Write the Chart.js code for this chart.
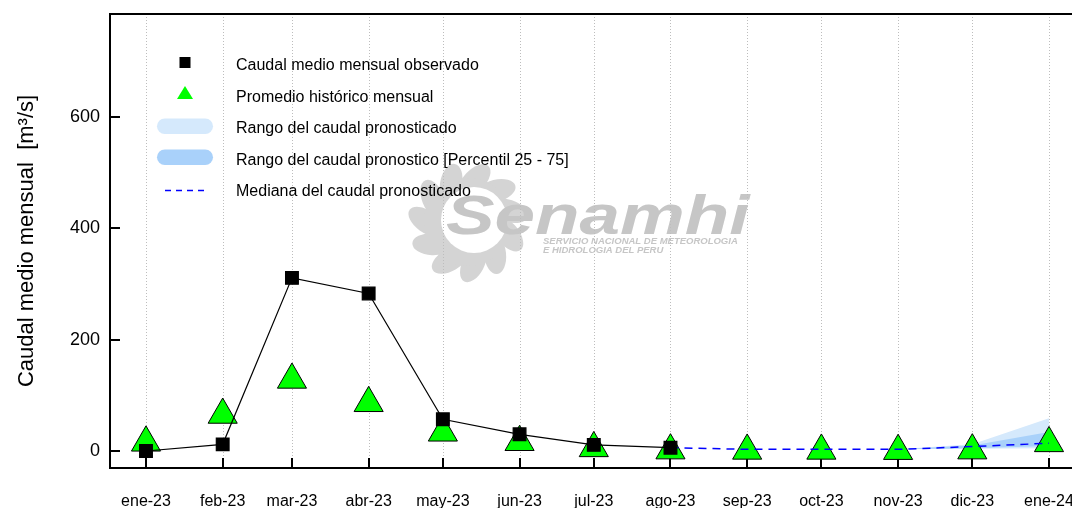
<!DOCTYPE html>
<html>
<head>
<meta charset="utf-8">
<script src="https://cdn.jsdelivr.net/npm/chart.js@4.4.0/dist/chart.umd.min.js"></script>
<style>
html, body { margin: 0; padding: 0; background: #fff; }
#wrap { width: 1072px; height: 508px; }
</style>
</head>
<body>
<div id="wrap"><canvas id="caudalChart" width="1072" height="508"></canvas></div>
<script>
// meses del eje x
const categories = ['ene-23', 'feb-23', 'mar-23', 'abr-23', 'may-23', 'jun-23', 'jul-23',
                    'ago-23', 'sep-23', 'oct-23', 'nov-23', 'dic-23', 'ene-24'];
const observado = [0, 12, 311, 283, 57, 30, 11, 6, null, null, null, null, null];
const promedioHistorico = [15, 65, 128, 86, 33, 16, 5, 1, 0.5, 0.5, 0, 1, 14];
const medianaPronostico = [null, null, null, null, null, null, null, 6, 3, 3, 3, 8, 14];
const rangoMin = [null, null, null, null, null, null, null, 6, 3, 3, 3, 4, 5];
const rangoMax = [null, null, null, null, null, null, null, 6, 3, 3, 3, 12, 59];
const percentil25 = [null, null, null, null, null, null, null, 6, 3, 3, 3, 5, 9];
const percentil75 = [null, null, null, null, null, null, null, 6, 3, 3, 3, 10, 34];
const yTicks = [0, 200, 400, 600];

const legendItems = [
    'Caudal medio mensual observado',
    'Promedio histórico mensual',
    'Rango del caudal pronosticado',
    'Rango del caudal pronostico [Percentil 25 - 75]',
    'Mediana del caudal pronosticado'
];

const FONT = "'Liberation Sans', Arial, sans-serif";

// posicion de cada mes en dias desde ene-23
const dayMs = 86400000;
const xDays = categories.map((c, i) => (Date.UTC(2023, i, 1) - Date.UTC(2023, 0, 1)) / dayMs);
const toPoints = arr => arr.map((v, i) => ({ x: xDays[i], y: v }));

// logo de fondo
const watermark = {
    id: 'watermark',
    beforeDraw(chart) {
        const ctx = chart.ctx;
        ctx.save();
        ctx.fillStyle = '#fff';
        ctx.fillRect(0, 0, chart.width, chart.height);
        const cx = 468, cy = 222;
        ctx.fillStyle = '#d4d4d4';
        for (let k = 0; k < 11; k++) {
            const a = k * Math.PI * 2 / 11 + 0.3;
            ctx.save();
            ctx.translate(cx + Math.cos(a) * 42, cy + Math.sin(a) * 42);
            ctx.rotate(a + 0.6);
            ctx.beginPath();
            ctx.ellipse(0, 0, 20, 11, 0, 0, Math.PI * 2);
            ctx.fill();
            ctx.restore();
        }
        ctx.beginPath();
        ctx.arc(cx, cy, 44, 0, Math.PI * 2);
        ctx.fill();
        ctx.fillStyle = '#fff';
        ctx.beginPath();
        ctx.arc(cx + 6, cy - 2, 33, 0, Math.PI * 2);
        ctx.fill();

        ctx.fillStyle = '#c6c6c6';
        ctx.save();
        ctx.translate(446, 234);
        ctx.scale(1.3, 1);
        ctx.font = 'italic bold 56px ' + FONT;
        ctx.textBaseline = 'alphabetic';
        ctx.fillText('Senamhi', 0, 0);
        ctx.restore();
        ctx.font = 'italic bold 9.5px ' + FONT;
        ctx.fillText('SERVICIO NACIONAL DE METEOROLOGIA', 543, 244, 214);
        ctx.fillText('E HIDROLOGIA DEL PERU', 543, 253, 130);
        ctx.restore();
    }
};

// rejilla punteada, marco, marcas hacia adentro y etiquetas del eje x
const frame = {
    id: 'frame',
    beforeDatasetsDraw(chart) {
        const ctx = chart.ctx;
        const area = chart.chartArea;
        const xs = chart.scales.x, ys = chart.scales.y;
        ctx.save();
        ctx.strokeStyle = '#bdbdbd';
        ctx.lineWidth = 1;
        ctx.setLineDash([1, 2]);
        xDays.forEach(d => {
            const px = Math.round(xs.getPixelForValue(d)) + 0.5;
            ctx.beginPath();
            ctx.moveTo(px, area.top);
            ctx.lineTo(px, area.bottom);
            ctx.stroke();
        });
        ctx.setLineDash([]);
        ctx.strokeStyle = '#000';
        ctx.lineWidth = 2;
        ctx.beginPath();
        ctx.moveTo(area.right + 2, area.top);
        ctx.lineTo(area.left, area.top);
        ctx.lineTo(area.left, area.bottom);
        ctx.lineTo(area.right + 2, area.bottom);
        ctx.stroke();
        xDays.forEach(d => {
            const px = Math.round(xs.getPixelForValue(d));
            ctx.beginPath();
            ctx.moveTo(px, area.bottom);
            ctx.lineTo(px, area.bottom - 10);
            ctx.stroke();
        });
        yTicks.forEach(v => {
            const py = Math.round(ys.getPixelForValue(v));
            ctx.beginPath();
            ctx.moveTo(area.left, py);
            ctx.lineTo(area.left + 10, py);
            ctx.stroke();
        });
        ctx.fillStyle = '#000';
        ctx.font = '16px ' + FONT;
        ctx.textAlign = 'center';
        ctx.textBaseline = 'alphabetic';
        categories.forEach((c, i) => {
            ctx.fillText(c, xs.getPixelForValue(xDays[i]), 506);
        });
        ctx.restore();
    }
};

// leyenda dentro del grafico
const legendBox = {
    id: 'legendBox',
    afterDraw(chart) {
        const ctx = chart.ctx;
        const rows = [70, 101.5, 133, 164.7, 196.3];
        ctx.save();
        ctx.fillStyle = '#000';
        ctx.fillRect(179.5, 57, 11, 11);
        ctx.fillStyle = '#00ff00';
        ctx.beginPath();
        ctx.moveTo(185, 86);
        ctx.lineTo(193, 99);
        ctx.lineTo(177, 99);
        ctx.closePath();
        ctx.fill();
        ctx.fillStyle = '#d5e9fc';
        ctx.beginPath();
        ctx.roundRect(157, 118.5, 56, 15.5, 7.75);
        ctx.fill();
        ctx.fillStyle = '#a9d1fa';
        ctx.beginPath();
        ctx.roundRect(157, 149.5, 56, 15.5, 7.75);
        ctx.fill();
        ctx.strokeStyle = '#0000ff';
        ctx.lineWidth = 1.5;
        ctx.setLineDash([6, 5]);
        ctx.beginPath();
        ctx.moveTo(165, 190.5);
        ctx.lineTo(208, 190.5);
        ctx.stroke();
        ctx.setLineDash([]);
        ctx.fillStyle = '#000';
        ctx.font = '16px ' + FONT;
        ctx.textBaseline = 'alphabetic';
        legendItems.forEach((t, i) => ctx.fillText(t, 236, rows[i]));
        ctx.restore();
    }
};

const ctx = document.getElementById('caudalChart').getContext('2d');
new Chart(ctx, {
    type: 'line',
    data: {
        datasets: [
            { data: toPoints(rangoMin), borderWidth: 0, pointRadius: 0, fill: false, order: 8 },
            { data: toPoints(rangoMax), borderWidth: 0, pointRadius: 0, fill: '-1', backgroundColor: '#d5e9fc', order: 7 },
            { data: toPoints(percentil25), borderWidth: 0, pointRadius: 0, fill: false, order: 6 },
            { data: toPoints(percentil75), borderWidth: 0, pointRadius: 0, fill: '-1', backgroundColor: '#a9d1fa', order: 5 },
            {
                data: toPoints(promedioHistorico), showLine: false, pointStyle: 'triangle',
                pointRadius: 16.8, pointBackgroundColor: '#00ff00', pointBorderColor: '#000',
                pointBorderWidth: 1, order: 4
            },
            {
                data: toPoints(medianaPronostico), borderColor: '#0000ff', borderWidth: 1.5,
                borderDash: [8, 6], pointRadius: 0, fill: false, order: 3
            },
            {
                data: toPoints(observado), borderColor: '#000', borderWidth: 1.2, pointStyle: 'rect',
                pointRadius: 9, pointBackgroundColor: '#000', pointBorderColor: '#000', order: 1
            }
        ]
    },
    options: {
        responsive: false,
        animation: false,
        devicePixelRatio: 1,
        layout: { autoPadding: false, padding: { top: 14, left: 0, right: 0, bottom: 0 } },
        plugins: { legend: { display: false }, tooltip: { enabled: false } },
        scales: {
            x: {
                type: 'linear',
                min: -14.55,
                max: 374.3,
                grid: { display: false, drawTicks: false },
                border: { display: false },
                afterBuildTicks: scale => { scale.ticks = xDays.map(v => ({ value: v })); },
                afterFit: scale => { scale.height = 40; scale.paddingLeft = 0; scale.paddingRight = 0; },
                ticks: { autoSkip: false, maxRotation: 0, callback: () => '' }
            },
            y: {
                min: -30.5,
                max: 785,
                grid: { display: false, drawTicks: false },
                border: { display: false },
                afterBuildTicks: scale => { scale.ticks = yTicks.map(v => ({ value: v })); },
                afterFit: scale => { scale.width = 110; scale.paddingTop = 0; scale.paddingBottom = 0; },
                ticks: { padding: 10, color: '#000', font: { family: FONT, size: 18 } },
                title: {
                    display: true,
                    text: 'Caudal medio mensual  [m³/s]',
                    color: '#000',
                    font: { family: FONT, size: 22 },
                    padding: { top: 14, bottom: 0 }
                }
            }
        }
    },
    plugins: [watermark, frame, legendBox]
});
</script>
</body>
</html>
